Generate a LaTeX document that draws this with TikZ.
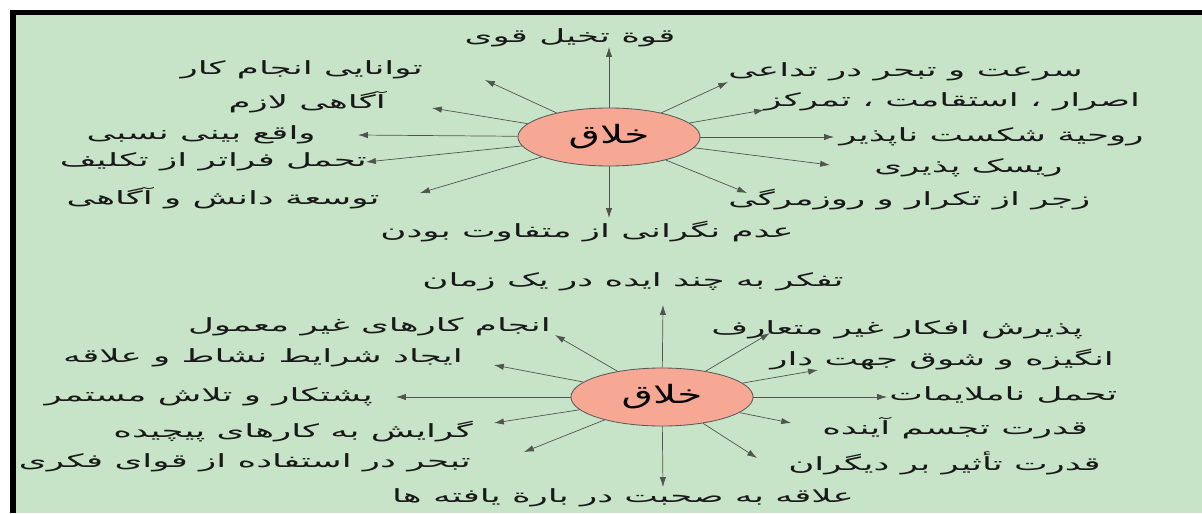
\documentclass[tikz,border=0pt]{standalone}
\usepackage{fontspec}
\usepackage{graphicx}
\usetikzlibrary{arrows.meta, shapes.geometric}
\TeXXeTstate=1
\newfontfamily\arabicfont[Script=Arabic]{DejaVu Sans}
\definecolor{bggreen}{RGB}{200,228,200}
\definecolor{blobfill}{RGB}{247,168,148}
\definecolor{spokegray}{RGB}{80,85,80}
\newcommand{\fatxt}[1]{\scalebox{1.95}[1]{\arabicfont\fontsize{13}{15}\selectfont\beginR #1\endR}}
\newcommand{\hubtxt}{\scalebox{1.6}[1]{\arabicfont\fontsize{18}{20}\selectfont\beginR خلاق\endR}}
\tikzset{
  blob/.style={ellipse, draw=black!65, line width=0.6pt, fill=blobfill, minimum width=4.55cm, minimum height=1.45cm, inner sep=0pt},
  spoke/.style={draw=spokegray, line width=0.5pt, -{Latex[length=7pt,width=4.5pt]}},
  lbl/.style={inner sep=0pt, text=black!90},
}

\begin{document}
\begin{tikzpicture}[x=0.025cm,y=-0.025cm]
  % frame
  \useasboundingbox (0,0) rectangle (1202,513);
  \fill[white] (0,0) rectangle (1202,513);
  \fill[bggreen] (13,12) rectangle (1202,513);
  \fill[black] (10,10) rectangle (1202,15);
  \fill[black] (10,10) rectangle (16,513);
  % upper star
  \begin{scope}
    \node[blob] (hubA) at(609,137){\hubtxt};
    \coordinate (au) at(609,47);
    \coordinate (al1) at(485,80);
    \coordinate (al2) at(432,108);
    \coordinate (al3) at(358,135);
    \coordinate (al4) at(366,162);
    \coordinate (al5) at(420,193);
    \coordinate (ad) at(609,218);
    \coordinate (ar1) at(728,82);
    \coordinate (ar2) at(764,110);
    \coordinate (ar3) at(834,137);
    \coordinate (ar4) at(830,165);
    \coordinate (ar5) at(747,193);
    \foreach \t in {au,al1,al2,al3,al4,al5,ad,ar1,ar2,ar3,ar4,ar5}
      \draw[spoke] (hubA) -- (\t);
    \node[lbl] (atop) at(570,38){\fatxt{قوة تخیل قوی}};
    \node[lbl,anchor=east] (la1) at(423,70){\fatxt{توانایی انجام کار}};
    \node[lbl,anchor=east] (la2) at(386,102){\fatxt{آگاهی لازم}};
    \node[lbl,anchor=east] (la3) at(316,135){\fatxt{واقع بینی نسبی}};
    \node[lbl,anchor=east] (la4) at(367,162){\fatxt{تحمل فراتر از تکلیف}};
    \node[lbl,anchor=east] (la5) at(380,198){\fatxt{توسعة دانش و آگاهی}};
    \node[lbl] (abot) at(587,232){\fatxt{عدم نگرانی از متفاوت بودن}};
    \node[lbl,anchor=west] (ra1) at(728,72){\fatxt{سرعت و تبحر در تداعی}};
    \node[lbl,anchor=west] (ra2) at(764,102){\fatxt{اصرار ، استقامت ، تمرکز}};
    \node[lbl,anchor=west] (ra3) at(839,137){\fatxt{روحیة شکست ناپذیر}};
    \node[lbl,anchor=west] (ra4) at(874,168){\fatxt{ریسک پذیری}};
    \node[lbl,anchor=west] (ra5) at(728,200){\fatxt{زجر از تکرار و روزمرگی}};
  \end{scope}
  % lower star
  \begin{scope}
    \node[blob] (hubB) at(662,397){\hubtxt};
    \coordinate (bu) at(663,305);
    \coordinate (bl1) at(555,335);
    \coordinate (bl2) at(494,365);
    \coordinate (bl3) at(396,397);
    \coordinate (bl4) at(494,423);
    \coordinate (bl5) at(524,452);
    \coordinate (bd) at(663,487);
    \coordinate (br1) at(770,333);
    \coordinate (br2) at(818,370);
    \coordinate (br3) at(887,397);
    \coordinate (br4) at(791,423);
    \coordinate (br5) at(757,458);
    \foreach \t in {bu,bl1,bl2,bl3,bl4,bl5,bd,br1,br2,br3,br4,br5}
      \draw[spoke] (hubB) -- (\t);
    \node[lbl] (btop) at(633,282){\fatxt{تفکر به چند ایده در یک زمان}};
    \node[lbl,anchor=east] (lb1) at(551,327){\fatxt{انجام کارهای غیر معمول}};
    \node[lbl,anchor=east] (lb2) at(463,358){\fatxt{ایجاد شرایط نشاط و علاقه}};
    \node[lbl,anchor=east] (lb3) at(373,397){\fatxt{پشتکار و تلاش مستمر}};
    \node[lbl,anchor=east] (lb4) at(473,432){\fatxt{گرایش به کارهای پیچیده}};
    \node[lbl,anchor=east] (lb5) at(471,463){\fatxt{تبحر در استفاده از قوای فکری}};
    \node[lbl] (bbot) at(623,498){\fatxt{علاقه به صحبت در بارة یافته ها}};
    \node[lbl,anchor=west] (rb1) at(711,330){\fatxt{پذیرش افکار غیر متعارف}};
    \node[lbl,anchor=west] (rb2) at(770,360){\fatxt{انگیزه و شوق جهت دار}};
    \node[lbl,anchor=west] (rb3) at(889,395){\fatxt{تحمل ناملایمات}};
    \node[lbl,anchor=west] (rb4) at(822,428){\fatxt{قدرت تجسم آینده}};
    \node[lbl,anchor=west] (rb5) at(788,463){\fatxt{قدرت تأثیر بر دیگران}};
  \end{scope}
\end{tikzpicture}
\end{document}
